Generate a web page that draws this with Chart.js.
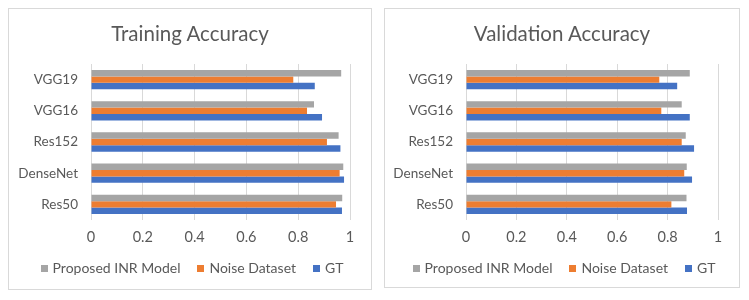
<!DOCTYPE html>
<html>
<head>
<meta charset="utf-8">
<script src="https://cdn.jsdelivr.net/npm/chart.js@4/dist/chart.umd.min.js"></script>
<style>
  html, body { margin:0; padding:0; background:#ffffff; }
  body { width:749px; height:300px; position:relative; overflow:hidden; font-family: Lato, "Open Sans", sans-serif; color:#595959; }
  .box { position:absolute; border:1px solid #d9d9d9; box-sizing:border-box; background:#fff; }
  #b1 { left:8px; top:8px; width:364px; height:282px; }
  #b2 { left:384px; top:8px; width:356px; height:280px; }
  canvas { display:block; position:absolute; left:0; top:0; }
  .title { position:absolute; left:0; right:0; top:11px; text-align:center; font-size:20.5px; line-height:26px; white-space:nowrap; }
  .legend { position:absolute; left:4px; right:0; top:250px; display:flex; justify-content:center; align-items:center; font-size:14px; line-height:18px; white-space:nowrap; }
  .legend .item { display:flex; align-items:center; margin-right:17px; }
  .legend .item:last-child { margin-right:0; }
  .legend .sw { width:7px; height:7px; margin-right:5px; }
</style>
</head>
<body>
<div class="box" id="b1"><canvas id="c1"></canvas><div class="title" id="t1"></div><div class="legend" id="l1"></div></div>
<div class="box" id="b2"><canvas id="c2"></canvas><div class="title" id="t2"></div><div class="legend" id="l2"></div></div>
<script>
const categories = ['VGG19', 'VGG16', 'Res152', 'DenseNet', 'Res50'];
const seriesNames = ['Proposed INR Model', 'Noise Dataset', 'GT'];
const seriesColors = ['#A5A5A5', '#ED7D31', '#4472C4'];
const xTicks = [0, 0.2, 0.4, 0.6, 0.8, 1];
const titles = ['Training Accuracy', 'Validation Accuracy'];

const trainProposed = [0.966, 0.861, 0.956, 0.974, 0.970];
const trainNoise    = [0.781, 0.834, 0.911, 0.960, 0.946];
const trainGT       = [0.864, 0.892, 0.963, 0.977, 0.969];

const valProposed = [0.888, 0.856, 0.872, 0.876, 0.875];
const valNoise    = [0.767, 0.775, 0.856, 0.866, 0.815];
const valGT       = [0.838, 0.888, 0.905, 0.897, 0.877];

const FONT = 'Lato, "Open Sans", sans-serif';
const TEXT = '#595959';

function buildLegend(id) {
  const el = document.getElementById(id);
  seriesNames.forEach((n, i) => {
    const it = document.createElement('div'); it.className = 'item';
    const sw = document.createElement('div'); sw.className = 'sw'; sw.style.background = seriesColors[i];
    const tx = document.createElement('span'); tx.textContent = n;
    it.appendChild(sw); it.appendChild(tx); el.appendChild(it);
  });
}

function makeChart(id, w, h, values, yAxisWidth, padRight, padTop, padBottom) {
  const cv = document.getElementById(id);
  cv.width = w; cv.height = h;
  cv.style.width = w + 'px'; cv.style.height = h + 'px';
  return new Chart(cv, {
    type: 'bar',
    data: {
      labels: categories,
      datasets: values.map((v, i) => ({
        label: seriesNames[i],
        data: v,
        backgroundColor: seriesColors[i],
        borderWidth: 0,
        categoryPercentage: 0.62,
        barPercentage: 1.0
      }))
    },
    options: {
      indexAxis: 'y',
      responsive: false,
      animation: false,
      devicePixelRatio: 1,
      layout: { padding: { left: 0, right: padRight, top: padTop, bottom: padBottom } },
      scales: {
        x: {
          min: 0, max: 1,
          afterBuildTicks: (s) => { s.ticks = xTicks.map(v => ({ value: v })); },
          afterFit: (s) => { s.height = 30; },
          ticks: {
            color: TEXT, font: { family: FONT, size: 14.5 }, padding: 8.5,
            callback: (v) => String(Math.round(v * 10) / 10)
          },
          grid: { color: '#d9d9d9', drawTicks: false, lineWidth: 1 },
          border: { display: false }
        },
        y: {
          afterFit: (s) => { s.width = yAxisWidth; },
          ticks: { color: TEXT, font: { family: FONT, size: 13.5 }, padding: 13 },
          grid: { display: false, drawTicks: false },
          border: { display: false }
        }
      },
      plugins: {
        title: { display: false },
        legend: { display: false },
        tooltip: { enabled: false }
      }
    }
  });
}

document.getElementById('t1').textContent = titles[0];
document.getElementById('t2').textContent = titles[1];
buildLegend('l1');
buildLegend('l2');
makeChart('c1', 362, 280, [trainProposed, trainNoise, trainGT], 82, 21, 55, 39);
makeChart('c2', 354, 278, [valProposed, valNoise, valGT], 81, 21, 55, 37);
</script>
</body>
</html>
